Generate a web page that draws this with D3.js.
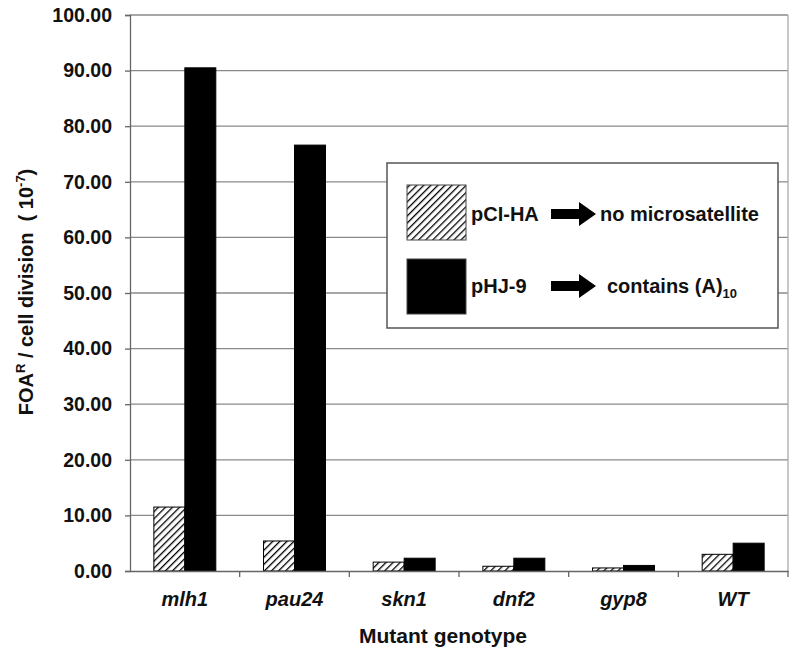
<!DOCTYPE html>
<html>
<head>
<meta charset="utf-8">
<script src="https://cdn.jsdelivr.net/npm/d3@7"></script>
<style>
  body { margin: 0; background: #fff; }
  text { font-family: "Liberation Sans", Arial, sans-serif; font-weight: bold; fill: #111; }
</style>
</head>
<body>
<div id="chart"></div>
<script>
// FOA resistance per cell division, two plasmids per mutant

var genotypes = ['mlh1', 'pau24', 'skn1', 'dnf2', 'gyp8', 'WT'];
var pciHA = [11.5, 5.4, 1.6, 0.85, 0.55, 3.0];
var phj9 = [90.5, 76.6, 2.3, 2.3, 1.0, 5.0];
var yTicks = [0, 10, 20, 30, 40, 50, 60, 70, 80, 90, 100];

var width = 800, height = 656;
var margin = { left: 130, right: 12, top: 15, bottom: 85 };

var svg = d3.select('#chart').append('svg')
    .attr('width', width)
    .attr('height', height);

var defs = svg.append('defs');
var pat = defs.append('pattern')
    .attr('id', 'hatch')
    .attr('patternUnits', 'userSpaceOnUse')
    .attr('width', 5)
    .attr('height', 5)
    .attr('patternTransform', 'rotate(45)');
pat.append('rect').attr('width', 5).attr('height', 5).attr('fill', '#fff');
pat.append('line')
    .attr('x1', 0).attr('y1', 0)
    .attr('x2', 0).attr('y2', 5)
    .attr('stroke', '#000')
    .attr('stroke-width', 2.6);

var x = d3.scaleBand()
    .domain(genotypes)
    .range([margin.left, width - margin.right])
    .padding(0);

var y = d3.scaleLinear()
    .domain([0, 100])
    .range([height - margin.bottom, margin.top]);

var series = [
    { key: 'pCI-HA', values: pciHA, fill: 'url(#hatch)' },
    { key: 'pHJ-9', values: phj9, fill: '#000' }
];

var groupW = x.bandwidth() * 0.565;
var xs = d3.scaleBand()
    .domain(series.map(function(d){ return d.key; }))
    .range([0, groupW]);

// gridlines
svg.append('g')
    .selectAll('line')
    .data(yTicks.slice(1))
    .enter()
    .append('line')
    .attr('x1', margin.left)
    .attr('x2', width - margin.right)
    .attr('y1', function(d){ return y(d); })
    .attr('y2', function(d){ return y(d); })
    .attr('stroke', '#8a8a8a')
    .attr('stroke-width', 1.3);

// right border
svg.append('line')
    .attr('x1', width - margin.right).attr('x2', width - margin.right)
    .attr('y1', y(100)).attr('y2', y(0))
    .attr('stroke', '#aaa')
    .attr('stroke-width', 1.3);

// bars
series.forEach(function(s){
    svg.append('g')
        .selectAll('rect')
        .data(s.values)
        .enter()
        .append('rect')
        .attr('x', function(d, i){
            return x(genotypes[i]) + (x.bandwidth() - groupW) / 2 + xs(s.key);
        })
        .attr('y', function(d){ return y(d); })
        .attr('width', xs.bandwidth())
        .attr('height', function(d){ return y(0) - y(d); })
        .attr('fill', s.fill)
        .attr('stroke', '#000')
        .attr('stroke-width', 1);
});

// y axis
var yAxis = svg.append('g')
    .attr('transform', 'translate(' + margin.left + ',0)')
    .call(d3.axisLeft(y).tickValues(yTicks).tickSize(5).tickPadding(13)
        .tickFormat(function(d){ return d3.format('.2f')(d); }));
yAxis.select('.domain').attr('stroke', '#666').attr('stroke-width', 1.3);
yAxis.selectAll('.tick line').attr('stroke', '#666').attr('stroke-width', 1.3);
yAxis.selectAll('.tick text')
    .style('font-size', '19.5px')
    .style('font-family', '"Liberation Sans", Arial, sans-serif')
    .style('font-weight', 'bold')
    .attr('fill', '#111');

// x axis
var xAxis = svg.append('g')
    .attr('transform', 'translate(0,' + y(0) + ')')
    .call(d3.axisBottom(x).tickSize(0).tickPadding(21));
xAxis.select('.domain').attr('stroke', '#666').attr('stroke-width', 1.3);
xAxis.selectAll('.tick text')
    .style('font-size', '20px')
    .style('font-family', '"Liberation Sans", Arial, sans-serif')
    .style('font-weight', 'bold')
    .style('font-style', 'italic')
    .attr('fill', '#111');

// category boundary ticks
svg.append('g')
    .selectAll('line')
    .data(genotypes.slice(1).concat(['end']))
    .enter()
    .append('line')
    .attr('x1', function(d){ return d === 'end' ? width - margin.right : x(d); })
    .attr('x2', function(d){ return d === 'end' ? width - margin.right : x(d); })
    .attr('y1', y(0))
    .attr('y2', y(0) + 6)
    .attr('stroke', '#666')
    .attr('stroke-width', 1.3);

// axis titles
svg.append('text')
    .attr('x', 443)
    .attr('y', 643)
    .attr('text-anchor', 'middle')
    .style('font-size', '21px')
    .text('Mutant genotype');

var yTitle = svg.append('text')
    .attr('transform', 'translate(33,292) rotate(-90)')
    .attr('text-anchor', 'middle')
    .style('font-size', '20px');
yTitle.append('tspan').text('FOA');
yTitle.append('tspan').attr('dy', -8).style('font-size', '13px').text('R');
yTitle.append('tspan').attr('dy', 8).text(' / cell division \u00a0( 10');
yTitle.append('tspan').attr('dy', -8).style('font-size', '13px').text('-7');
yTitle.append('tspan').attr('dy', 8).text(')');

// legend
var legend = svg.append('g');
legend.append('rect')
    .attr('x', 387).attr('y', 163)
    .attr('width', 391).attr('height', 165)
    .attr('fill', '#fff')
    .attr('stroke', '#555')
    .attr('stroke-width', 1.5);

var legendRows = [
    { key: 'pCI-HA', note: 'no microsatellite', noteX: 600, y: 185, cy: 214, fill: 'url(#hatch)' },
    { key: 'pHJ-9', note: 'contains (A)', sub: '10', noteX: 607, y: 259, cy: 286, fill: '#000' }
];

legendRows.forEach(function(r){
    legend.append('rect')
        .attr('x', 407).attr('y', r.y)
        .attr('width', 59).attr('height', 55)
        .attr('fill', r.fill)
        .attr('stroke', '#444')
        .attr('stroke-width', 1);
    legend.append('text')
        .attr('x', 471).attr('y', r.cy + 7)
        .style('font-size', '20px')
        .text(r.key);
    legend.append('path')
        .attr('d', 'M551,' + (r.cy - 5) + 'H579V' + (r.cy - 12) + 'L596,' + r.cy +
            'L579,' + (r.cy + 12) + 'V' + (r.cy + 5) + 'H551Z')
        .attr('fill', '#000');
    var t = legend.append('text')
        .attr('x', r.noteX).attr('y', r.cy + 7)
        .style('font-size', '20px')
        .text(r.note);
    if (r.sub) {
        t.append('tspan').attr('dy', 5).style('font-size', '13px').text(r.sub);
    }
});
</script>
</body>
</html>
